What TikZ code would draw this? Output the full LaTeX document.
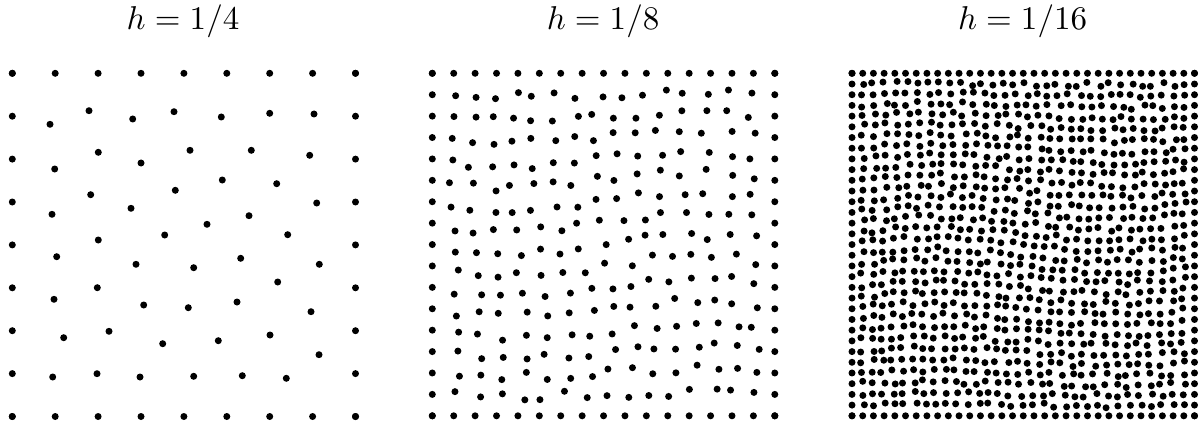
\documentclass[tikz,border=0pt]{standalone}
\begin{document}
\begin{tikzpicture}[x=1pt,y=-1pt,
  dotr/.style={fill=black},
  ttl/.style={scale=3.3, inner sep=0pt, anchor=base}]
\useasboundingbox (0,0) rectangle (1202,425);
\pgfmathsetseed{11}
% titles
\node[ttl] (t1) at (183,30) {$h=1/4$};
\node[ttl] (t2) at (603,30) {$h=1/8$};
\node[ttl] (t3) at (1022.5,30) {$h=1/16$};
% panel 1 boundary
\foreach \k in {0,...,8}{
  \fill[dotr] ({12.3+42.9*\k},73.3) circle[radius=3.5pt];
  \fill[dotr] ({12.3+42.9*\k},416.5) circle[radius=3.5pt];
  \fill[dotr] (12.3,{73.3+42.9*\k}) circle[radius=3.5pt];
  \fill[dotr] (355.5,{73.3+42.9*\k}) circle[radius=3.5pt];
}
% panel 1 interior
\foreach \p in {(50,124.3),(89,110.7),(132.7,119),(174,111.7),(54.7,169),(98.3,152.3),
  (141,163),(190,150.3),(52,214.3),(90.7,194.7),(131,208.3),(175.3,190.3),(98.3,240),
  (164.7,235),(221.3,117),(269.7,113.3),(314,114),(251.3,150.3),(309.7,155.3),
  (222.3,180),(276.7,183.7),(316.7,203),(249,215.7),(207,224.3),(287.7,234.7),
  (56.7,256.7),(136,264.3),(97.3,287.7),(54,299.3),(143.7,305),(188.3,307.7),
  (63.7,337.7),(109,331.3),(162.7,343.7),(52.7,377),(97,373.7),(140,377),
  (193.7,267.7),(240.7,258.3),(319.3,264.3),(277.7,282),(237,302),(311,311.7),
  (218.3,340.7),(270,335),(319,354.7),(193.7,376.3),(242.3,375.7),(286.3,378.3)}
  \fill[dotr] \p circle[radius=3.5pt];
% panels 2 and 3
\foreach \L/\n/\sw in {432.3/16/-9, 852/32/6}{
  \pgfmathsetmacro\hh{342.5/\n}
  \pgfmathsetmacro\cx{\L+171.25}
  \pgfmathsetmacro\cy{73.3+171.25}
  \foreach \k in {0,...,\n}{
    \fill[dotr] ({\L+\hh*\k},73.3) circle[radius=3.5pt];
    \fill[dotr] ({\L+\hh*\k},415.8) circle[radius=3.5pt];
    \fill[dotr] (\L,{73.3+\hh*\k}) circle[radius=3.5pt];
    \fill[dotr] ({\L+342.5},{73.3+\hh*\k}) circle[radius=3.5pt];
  }
  \pgfmathtruncatemacro\m{\n-1}
  \foreach \i in {1,...,\m}{
    \foreach \j in {1,...,\m}{
      \pgfmathsetmacro\dx{\hh*(\i+0.2*rand)-171.25}
      \pgfmathsetmacro\dy{\hh*(\j+0.2*rand)-171.25}
      \pgfmathsetmacro\ang{\sw*sin(180*\i/\n)*sin(180*\j/\n)}
      \pgfmathsetmacro\px{\cx+\dx*cos(\ang)-\dy*sin(\ang)}
      \pgfmathsetmacro\py{\cy+\dx*sin(\ang)+\dy*cos(\ang)}
      \fill[dotr] (\px,\py) circle[radius=3.5pt];
    }
  }
}
\end{tikzpicture}
\end{document}
